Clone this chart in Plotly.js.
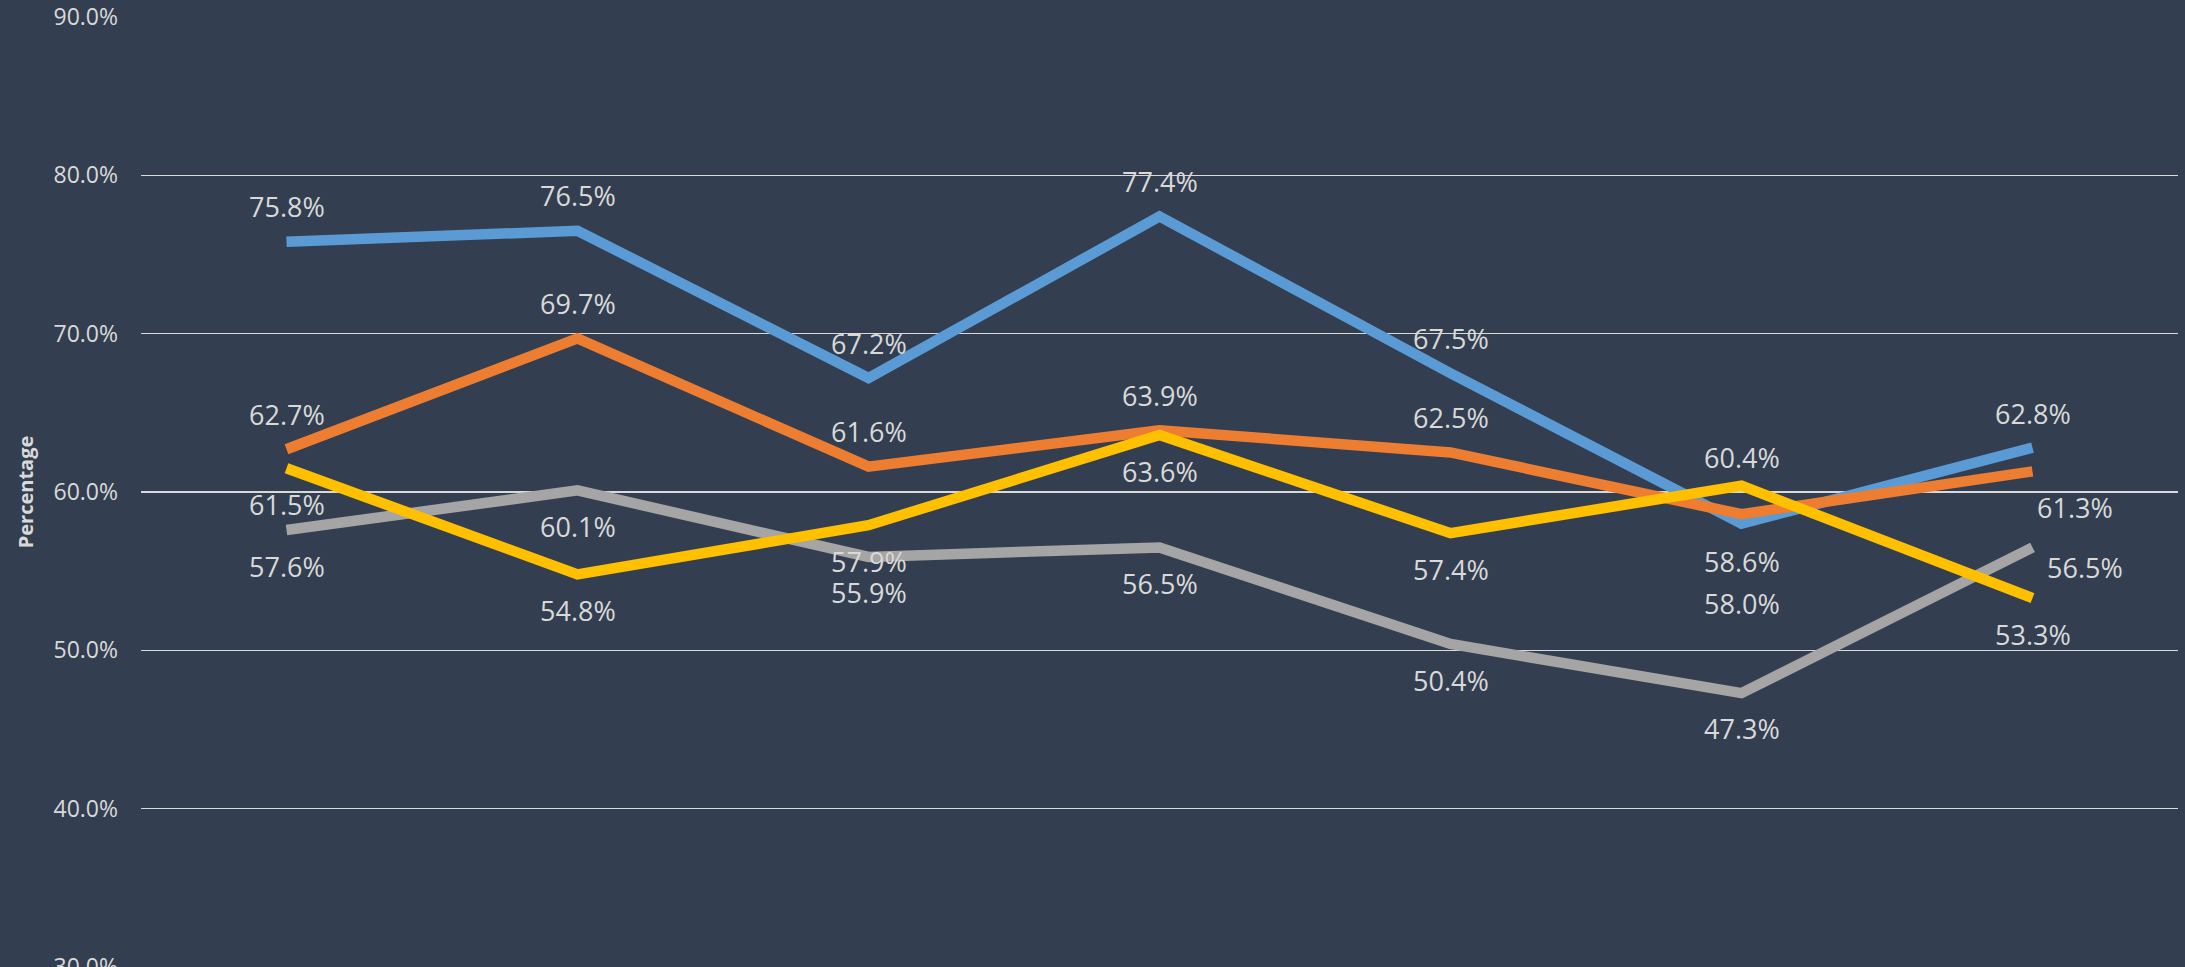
<!DOCTYPE html>
<html>
<head>
<meta charset="utf-8">
<script src="https://cdn.plot.ly/plotly-3.0.1.min.js"></script>
<style>
  html, body { margin: 0; padding: 0; background: #333F50; }
  #chart { width: 2185px; height: 967px; }
</style>
</head>
<body>
<div id="chart"></div>
<script>
// ---- data ----
const categories = ['1', '2', '3', '4', '5', '6', '7'];
const blueValues   = [75.8, 76.5, 67.2, 77.4, 67.5, 58.0, 62.8];
const orangeValues = [62.7, 69.7, 61.6, 63.9, 62.5, 58.6, 61.3];
const grayValues   = [57.6, 60.1, 55.9, 56.5, 50.4, 47.3, 56.5];
const yellowValues = [61.5, 54.8, 57.9, 63.6, 57.4, 60.4, 53.3];
const yTickValues  = [30, 40, 50, 60, 70, 80, 90];

// ---- label placement (style config: pixel offsets of each data label) ----
const labelShift = {
  blue:   { dx: [0, 0, 0, 0, 0, 0, 0],  dy: [-35, -35, -35, -35, -35, 80, -34] },
  orange: { dx: [0, 0, 0, 0, 0, 0, 42], dy: [-35, -35, -35, -35, -35, 47, 36] },
  gray:   { dx: [0, 0, 0, 0, 0, 0, 52], dy: [36, 36, 36, 36, 36, 35, 20] },
  yellow: { dx: [0, 0, 0, 0, 0, 0, 0],  dy: [36, 36, 36, 36, 36, -28, 36] }
};

const series = [
  { key: 'blue',   values: blueValues,   color: '#5B9BD5' },
  { key: 'orange', values: orangeValues, color: '#ED7D31' },
  { key: 'gray',   values: grayValues,   color: '#A5A5A5' },
  { key: 'yellow', values: yellowValues, color: '#FFC000' }
];

const textColor = '#D9D9D9';
const labelFont = { family: '"Open Sans", sans-serif', size: 27, color: textColor, stretch: 'condensed' };

const traces = series.map(s => ({
  type: 'scatter',
  mode: 'lines',
  x: categories,
  y: s.values,
  line: { color: s.color, width: 10.5 },
  hoverinfo: 'skip',
  showlegend: false
}));

const annotations = [];
series.forEach(s => {
  s.values.forEach((v, i) => {
    annotations.push({
      xref: 'x', yref: 'y',
      x: i, y: v,
      text: v.toFixed(1) + '%',
      showarrow: false,
      xanchor: 'center', yanchor: 'middle',
      xshift: labelShift[s.key].dx[i],
      yshift: -labelShift[s.key].dy[i],
      font: labelFont
    });
  });
});

const layout = {
  width: 2185,
  height: 967,
  margin: { l: 141, r: 7, t: 17, b: 0 },
  paper_bgcolor: '#333F50',
  plot_bgcolor: '#333F50',
  showlegend: false,
  xaxis: {
    type: 'category',
    range: [-0.5, 6.5],
    showgrid: false,
    zeroline: false,
    showline: false,
    showticklabels: false,
    ticks: ''
  },
  yaxis: {
    range: [30, 90],
    tickvals: yTickValues,
    ticktext: yTickValues.map(v => v.toFixed(1) + '%'),
    ticklabeloverflow: 'allow',
    showgrid: true,
    gridcolor: '#D9D9D9',
    gridwidth: 1.5,
    zeroline: false,
    showline: false,
    ticks: '',
    ticklabelstandoff: 22,
    tickfont: { family: '"Open Sans", sans-serif', size: 23, color: textColor },
    title: {
      text: 'Percentage',
      font: { family: '"Open Sans", sans-serif', size: 20, color: textColor, weight: 'bold' },
      standoff: 14
    }
  },
  annotations: annotations
};

Plotly.newPlot('chart', traces, layout, { displayModeBar: false, staticPlot: true });
</script>
</body>
</html>
